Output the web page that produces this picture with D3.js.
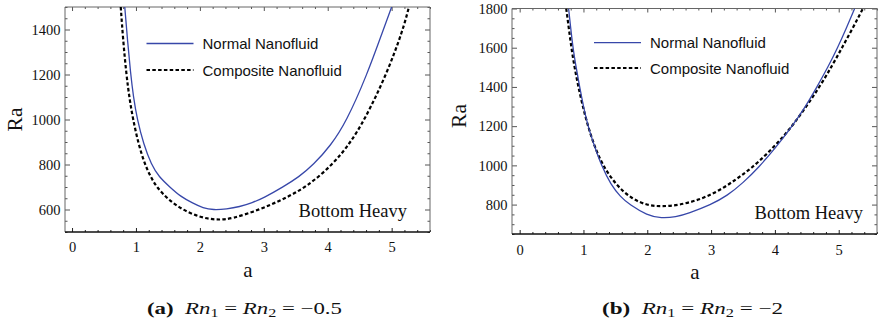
<!DOCTYPE html>
<html>
<head>
<meta charset="utf-8">
<script src="https://cdn.jsdelivr.net/npm/d3@7"></script>
<style>
body { margin: 0; background: #fff; }
</style>
</head>
<body>
<script>
// panel (a): Rn1 = Rn2 = -0.5
var leftNormalA  = [0.825, 0.87, 0.914, 0.96, 1.02, 1.12, 1.24, 1.36, 1.53, 1.7, 1.89, 2.05, 2.21, 2.42, 2.62, 2.82, 3.0, 3.3, 3.55, 3.77, 4.05, 4.29, 4.61, 4.87, 5.0];
var leftNormalRa = [1500, 1345, 1210, 1100, 1000, 890, 800, 745, 700, 657, 628, 606, 598, 602, 612, 630, 652, 700, 745, 797, 885, 990, 1195, 1400, 1500];
var leftCompA  = [0.762, 0.80, 0.85, 0.90, 0.955, 1.04, 1.14, 1.23, 1.32, 1.5, 1.72, 2.0, 2.26, 2.5, 2.94, 3.3, 3.67, 4.08, 4.35, 4.58, 4.92, 5.18, 5.27];
var leftCompRa = [1500, 1350, 1200, 1090, 1000, 890, 800, 745, 701, 645, 600, 565, 553, 558, 600, 645, 700, 800, 895, 1000, 1200, 1400, 1500];

// panel (b): Rn1 = Rn2 = -2
var rightNormalA  = [0.767, 0.80, 0.835, 0.885, 0.94, 1.0, 1.07, 1.17, 1.28, 1.43, 1.58, 1.72, 2.0, 2.22, 2.45, 2.64, 3.0, 3.25, 3.5, 3.76, 4.0, 4.25, 4.48, 4.65, 4.83, 4.98, 5.12, 5.25];
var rightNormalRa = [1800, 1700, 1600, 1500, 1400, 1300, 1200, 1100, 1000, 900, 840, 800, 745, 730, 737, 755, 800, 845, 910, 995, 1085, 1190, 1300, 1395, 1500, 1598, 1700, 1800];
var rightCompA  = [0.73, 0.77, 0.81, 0.86, 0.92, 0.99, 1.07, 1.17, 1.30, 1.51, 1.75, 2.0, 2.22, 2.5, 2.8, 3.1, 3.4, 3.63, 3.9, 4.2, 4.45, 4.70, 4.9, 5.06, 5.22, 5.38];
var rightCompRa = [1800, 1700, 1600, 1500, 1400, 1300, 1200, 1100, 1000, 900, 830, 796, 790, 797, 823, 865, 930, 985, 1065, 1170, 1280, 1400, 1510, 1605, 1700, 1800];

var seriesNames = ["Normal Nanofluid", "Composite Nanofluid"];
var xMajorTicks = [0, 1, 2, 3, 4, 5];
var leftYTicks = [600, 800, 1000, 1200, 1400];
var rightYTicks = [800, 1000, 1200, 1400, 1600, 1800];

var svg = d3.select("body")
    .append("svg")
    .attr("width", 879)
    .attr("height", 325);

function zip(a, r) {
    return a.map(function (d, i) { return [d, r[i]]; });
}

function drawPanel(p) {
    var x = d3.scaleLinear().domain(p.xDomain).range([p.x0, p.x1]);
    var y = d3.scaleLinear().domain(p.yDomain).range([p.y1, p.y0]);

    var xMinor = d3.range(0, 5.61, 0.2).filter(function (d) {
        return xMajorTicks.indexOf(Math.round(d * 10) / 10) < 0;
    });
    var yMinor = d3.range(p.yDomain[0], p.yDomain[1] + 1, 50).filter(function (d) {
        return p.yTicks.indexOf(d) < 0;
    });

    var g = svg.append("g");

    // ticks, all pointing inward like a Mathematica frame
    function axis(gen, tx, ty, values, size, pad, labels, color) {
        var ax = g.append("g")
            .attr("transform", "translate(" + tx + "," + ty + ")")
            .call(gen.tickValues(values).tickSize(-size).tickPadding(pad)
                .tickFormat(labels ? d3.format("d") : ""));
        ax.select(".domain").remove();
        ax.selectAll("line").attr("stroke", color);
        ax.attr("font-family", "'Liberation Serif', 'Times New Roman', serif")
          .attr("font-size", 14.5);
        ax.selectAll("text").attr("fill", "#111");
        return ax;
    }
    axis(d3.axisLeft(y), p.x0, 0, p.yTicks, 5, 4.5, true, "#555");
    axis(d3.axisLeft(y), p.x0, 0, yMinor, 2.5, 4, false, "#555");
    axis(d3.axisRight(y), p.x1, 0, p.yTicks, 5, 4, false, "#555");
    axis(d3.axisRight(y), p.x1, 0, yMinor, 2.5, 4, false, "#555");
    axis(d3.axisTop(x), 0, p.y0, xMajorTicks, 4, 4, false, "#555");
    axis(d3.axisTop(x), 0, p.y0, xMinor, 2, 4, false, "#555");
    axis(d3.axisBottom(x), 0, p.y1, xMajorTicks, 4, p.xPad, true, "#222");
    axis(d3.axisBottom(x), 0, p.y1, xMinor, 2, 4, false, "#222");

    // frame
    g.append("path")
        .attr("d", "M" + p.x0 + "," + p.y1 + "V" + p.y0 + "H" + p.x1 + "V" + p.y1)
        .attr("fill", "none")
        .attr("stroke", "#666")
        .attr("stroke-width", 1);
    g.append("line")
        .attr("x1", p.x0).attr("x2", p.x1)
        .attr("y1", p.y1).attr("y2", p.y1)
        .attr("stroke", "#111")
        .attr("stroke-width", 1.4);

    var clipId = "clip" + p.id;
    svg.append("clipPath").attr("id", clipId)
        .append("rect")
        .attr("x", p.x0).attr("y", p.y0)
        .attr("width", p.x1 - p.x0).attr("height", p.y1 - p.y0);

    // b-spline smooths out small reading errors in the traced points
    var line = d3.line()
        .x(function (d) { return x(d[0]); })
        .y(function (d) { return y(d[1]); })
        .curve(d3.curveBasis);

    var curves = g.append("g").attr("clip-path", "url(#" + clipId + ")");
    curves.append("path")
        .datum(zip(p.compA, p.compRa))
        .attr("d", line)
        .attr("fill", "none")
        .attr("stroke", "#000")
        .attr("stroke-width", 2.2)
        .attr("stroke-dasharray", "3.5,2.3");
    curves.append("path")
        .datum(zip(p.normA, p.normRa))
        .attr("d", line)
        .attr("fill", "none")
        .attr("stroke", "#3747a9")
        .attr("stroke-width", 1.3);

    // legend
    var styles = [
        { stroke: "#3747a9", width: 1.3, dash: null },
        { stroke: "#000", width: 2.2, dash: "3.5,2.3" }
    ];
    seriesNames.forEach(function (name, i) {
        g.append("line")
            .attr("x1", p.legX).attr("x2", p.legX + 47)
            .attr("y1", p.legY[i]).attr("y2", p.legY[i])
            .attr("stroke", styles[i].stroke)
            .attr("stroke-width", styles[i].width)
            .attr("stroke-dasharray", styles[i].dash);
        g.append("text")
            .attr("x", p.legX + 56)
            .attr("y", p.legY[i] + 5.5)
            .attr("font-family", "'Liberation Sans', Arial, sans-serif")
            .attr("font-size", 15)
            .attr("fill", "#111")
            .text(name);
    });

    g.append("text")
        .attr("x", p.heavyX)
        .attr("y", p.y1 - 15.5)
        .attr("text-anchor", "end")
        .attr("font-family", "'Liberation Serif', 'Times New Roman', serif")
        .attr("font-size", 18.5)
        .attr("fill", "#111")
        .text("Bottom Heavy");

    // axis titles
    g.append("text")
        .attr("transform", "translate(" + p.yLabX + "," + p.yLabY + ") rotate(-90)")
        .attr("text-anchor", "middle")
        .attr("font-family", "'Liberation Serif', 'Times New Roman', serif")
        .attr("font-size", 21.5)
        .attr("fill", "#111")
        .text("Ra");
    g.append("text")
        .attr("x", (p.x0 + p.x1) / 2 + 0.5)
        .attr("y", p.y1 + 45)
        .attr("text-anchor", "middle")
        .attr("font-family", "'Liberation Serif', 'Times New Roman', serif")
        .attr("font-size", 21)
        .attr("fill", "#111")
        .text("a");

    // sub-caption
    var cap = svg.append("text")
        .attr("x", p.capX)
        .attr("y", 314)
        .attr("font-family", "'Liberation Serif', 'Times New Roman', serif")
        .attr("font-size", 17)
        .attr("fill", "#111")
        .attr("textLength", p.capW)
        .attr("lengthAdjust", "spacingAndGlyphs");
    cap.append("tspan").attr("font-weight", "bold").text("(" + p.id + ")");
    cap.append("tspan").attr("font-style", "italic").text("\u2002Rn");
    cap.append("tspan").attr("font-size", 12).attr("dy", 3).text("1");
    cap.append("tspan").attr("dy", -3).text(" = ");
    cap.append("tspan").attr("font-style", "italic").text("Rn");
    cap.append("tspan").attr("font-size", 12).attr("dy", 3).text("2");
    cap.append("tspan").attr("dy", -3).text(" = \u2212" + p.rn);
}

drawPanel({
    id: "a", rn: "0.5",
    x0: 65, x1: 430, y0: 7, y1: 232,
    xDomain: [-0.11, 5.6], yDomain: [500, 1500],
    yTicks: leftYTicks, xPad: 10,
    normA: leftNormalA, normRa: leftNormalRa,
    compA: leftCompA, compRa: leftCompRa,
    legX: 146.5, legY: [43.5, 70],
    heavyX: 407,
    yLabX: 22, yLabY: 119.5,
    capX: 147, capW: 195
});

drawPanel({
    id: "b", rn: "2",
    x0: 512, x1: 877, y0: 8.5, y1: 234,
    xDomain: [-0.12, 5.6], yDomain: [650, 1800],
    yTicks: rightYTicks, xPad: 11,
    normA: rightNormalA, normRa: rightNormalRa,
    compA: rightCompA, compRa: rightCompRa,
    legX: 594, legY: [42.7, 68],
    heavyX: 863,
    yLabX: 466, yLabY: 116,
    capX: 602, capW: 181
});
</script>
</body>
</html>
